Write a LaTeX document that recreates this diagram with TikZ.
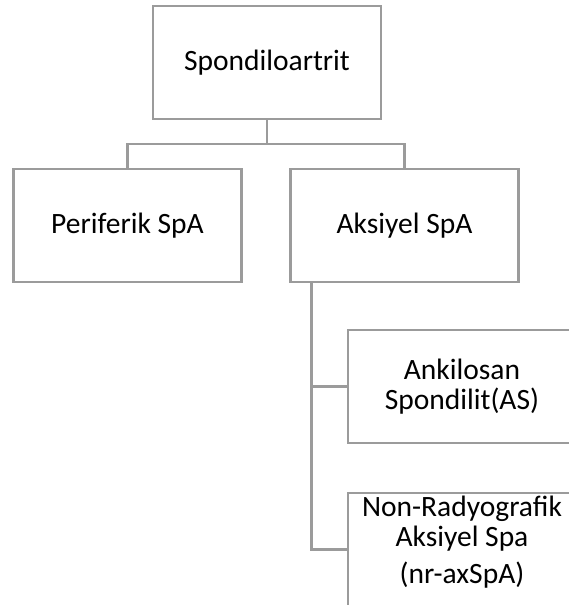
\documentclass[tikz,border=0pt]{standalone}
\usepackage{fontspec}
\setmainfont{Carlito}
\usetikzlibrary{positioning}

\definecolor{boxgray}{RGB}{155,155,155}

\tikzset{
  box/.style={draw=boxgray, line width=2.2pt, minimum width=228pt, minimum height=113pt,
    inner sep=1pt, align=center, font=\fontsize{29.5pt}{30pt}\selectfont},
  link/.style={draw=boxgray, line width=2.2pt}
}

\begin{document}
\begin{tikzpicture}[x=1pt,y=1pt,yscale=-1,xscale=1]
\useasboundingbox (0,0) rectangle (569,605);
\clip (0,0) rectangle (569,605);

%Shape: top box
\node[box] (spa) at (267,62.5) {Spondiloartrit};
%Shape: second row
\node[box] (periferik) at (127.5,225.5) {Periferik SpA};
\node[box] (aksiyel) at (404.5,225.5) {Aksiyel SpA};
%Shape: sub boxes, cut at the right and bottom
\node[box] (ankilosan) at (462,386.5) {Ankilosan\\Spondilit(AS)};
\node[box, text depth=20pt] (nonrad) at (462,549.5) {Non-Radyografik\\Aksiyel Spa\\[7pt](nr-axSpA)};

%Straight Lines
\coordinate (bus) at (267,144);
\draw[link] (spa.south) -- (bus);
\draw[link] (periferik.north) |- (bus) -| (aksiyel.north);

%Straight Lines: trunk under Aksiyel SpA
\coordinate (trunk) at ([xshift=22pt]aksiyel.south west);
\draw[link] (trunk) |- (ankilosan.west);
\draw[link] (trunk) |- (nonrad.west);

\end{tikzpicture}
\end{document}
